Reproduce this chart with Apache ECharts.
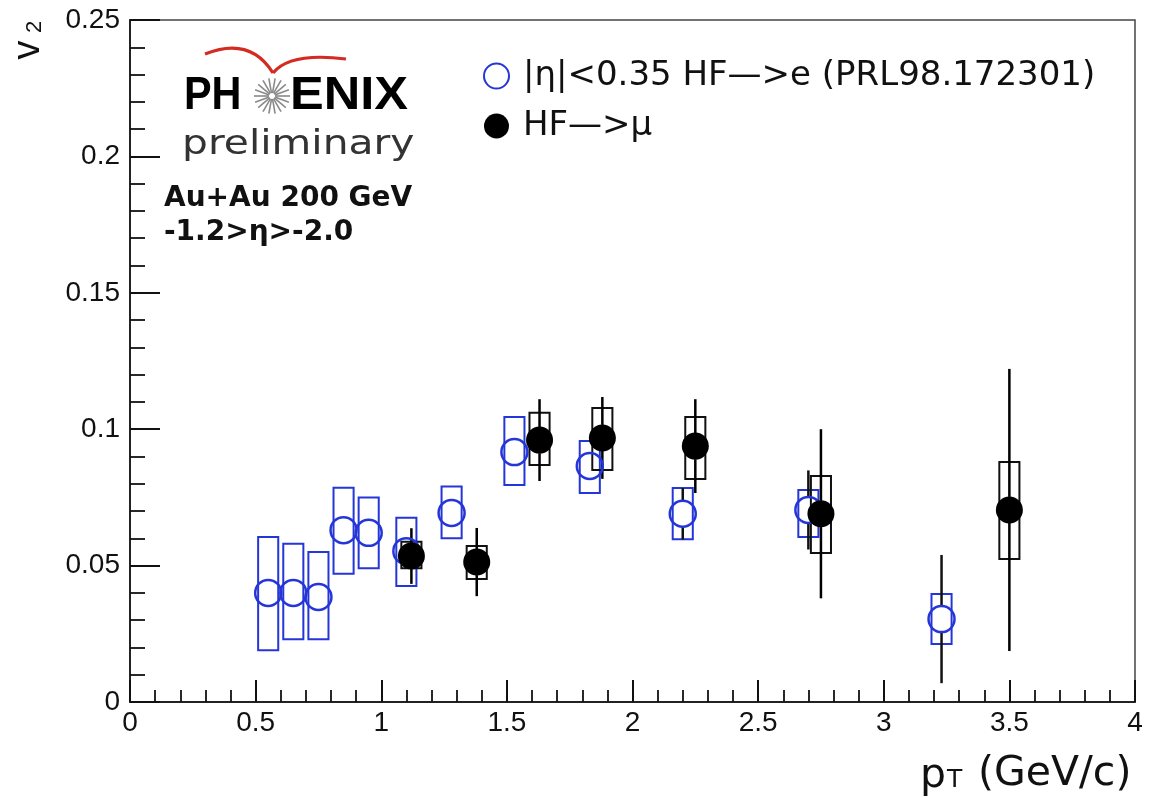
<!DOCTYPE html>
<html>
<head>
<meta charset="utf-8">
<style>
  html, body { margin: 0; padding: 0; background: #ffffff; }
  #chart { width: 1168px; height: 798px; }
</style>
<script src="https://cdn.jsdelivr.net/npm/echarts@6/dist/echarts.min.js"></script>
</head>
<body>
<div id="chart"></div>
<script>
// Heavy-flavour electron v2 at mid-rapidity (|eta|<0.35)
const elecPt     = [0.55, 0.65, 0.75, 0.85, 0.95, 1.10, 1.28, 1.53, 1.83, 2.20, 2.70, 3.23];
const elecV2     = [0.0400, 0.0400, 0.0385, 0.0630, 0.0620, 0.0553, 0.0693, 0.0916, 0.0865, 0.0690, 0.0704, 0.0304];
const elecStat   = [0.0048, 0.0048, 0.0048, 0.0048, 0.0048, 0.0048, 0.0048, 0.0048, 0.0048, 0.0094, 0.0145, 0.0235];
const elecSysLo  = [0.0190, 0.0230, 0.0230, 0.0470, 0.0490, 0.0425, 0.0600, 0.0795, 0.0766, 0.0597, 0.0605, 0.0213];
const elecSysHi  = [0.0605, 0.0580, 0.0550, 0.0785, 0.0750, 0.0675, 0.0790, 0.1045, 0.0957, 0.0784, 0.0777, 0.0396];

// Heavy-flavour muon v2 at forward rapidity (-1.2 > eta > -2.0)
const muonPt     = [1.12, 1.38, 1.63, 1.88, 2.25, 2.75, 3.50];
const muonV2     = [0.0535, 0.0513, 0.0960, 0.0968, 0.0938, 0.0690, 0.0704];
const muonStat   = [0.0102, 0.0125, 0.0150, 0.0150, 0.0172, 0.0310, 0.0517];
const muonSysLo  = [0.0490, 0.0451, 0.0869, 0.0850, 0.0817, 0.0546, 0.0524];
const muonSysHi  = [0.0587, 0.0572, 0.1060, 0.1078, 0.1045, 0.0828, 0.0880];

const xTicks = { min: 0, max: 4, step: 0.5 };
const yTicks = { min: 0, max: 0.25, step: 0.05 };

const ELEC_NAME = '|η|<0.35 HF—>e (PRL98.172301)';
const MUON_NAME = 'HF—>μ';

const BLUE = '#2536d8';
const BOX_HALF = 0.04;   // half width of systematic boxes, in GeV/c
const MARK_R = 13;       // marker radius in px (error bars stop at the marker edge)

function boxRenderer(color) {
  return function (params, api) {
    const x = api.value(0), lo = api.value(1), hi = api.value(2);
    const a = api.coord([x - BOX_HALF, hi]);
    const b = api.coord([x + BOX_HALF, lo]);
    return {
      type: 'rect',
      shape: { x: a[0], y: a[1], width: b[0] - a[0], height: b[1] - a[1] },
      style: { fill: 'none', stroke: color, lineWidth: 2 }
    };
  };
}

function errRenderer(color) {
  return function (params, api) {
    const x = api.value(0), v = api.value(1), e = api.value(2);
    const c = api.coord([x, v]);
    const t = api.coord([x, v + e]);
    const b = api.coord([x, v - e]);
    const children = [];
    if (t[1] < c[1] - MARK_R) {
      children.push({ type: 'line', shape: { x1: c[0], y1: t[1], x2: c[0], y2: c[1] - MARK_R },
        style: { stroke: color, lineWidth: 2.5 } });
    }
    if (b[1] > c[1] + MARK_R) {
      children.push({ type: 'line', shape: { x1: c[0], y1: c[1] + MARK_R, x2: c[0], y2: b[1] },
        style: { stroke: color, lineWidth: 2.5 } });
    }
    return { type: 'group', children: children };
  };
}

// PHENIX logo star: spokes around a centre
function starSpokes(cx, cy, rIn, rOut, n) {
  const out = [];
  for (let k = 0; k < n; k++) {
    const ang = (Math.PI * 2 * k) / n;
    out.push({
      type: 'line',
      shape: { x1: cx + rIn * Math.cos(ang), y1: cy + rIn * Math.sin(ang),
               x2: cx + rOut * Math.cos(ang), y2: cy + rOut * Math.sin(ang) },
      style: { stroke: '#8a8a8a', lineWidth: 1.6 }
    });
  }
  return out;
}

const chart = echarts.init(document.getElementById('chart'), null, { renderer: 'canvas' });

const axisFont = { fontFamily: 'Liberation Sans', fontSize: 28, color: '#111' };

const option = {
  backgroundColor: '#ffffff',
  animation: false,
  grid: {
    left: 130, right: 33, top: 20, bottom: 96,
    show: true, borderColor: '#444', borderWidth: 1.5, backgroundColor: 'transparent'
  },
  legend: {
    orient: 'vertical',
    left: 478, top: 54,
    itemWidth: 25, itemHeight: 25, itemGap: 16,
    icon: 'circle',
    selectedMode: false,
    textStyle: { fontFamily: 'DejaVu Sans', fontSize: 34, color: '#111', padding: [0, 0, 0, 9] },
    data: [ELEC_NAME, MUON_NAME]
  },
  xAxis: {
    type: 'value', min: xTicks.min, max: xTicks.max, interval: xTicks.step,
    axisLine: { lineStyle: { color: '#222', width: 2 } },
    axisTick: { inside: true, length: 22, lineStyle: { color: '#111', width: 2 } },
    minorTick: { show: true, splitNumber: 5, length: 12, lineStyle: { color: '#111', width: 1.8 } },
    splitLine: { show: false }, minorSplitLine: { show: false },
    axisLabel: Object.assign({ margin: 7 }, axisFont)
  },
  yAxis: {
    type: 'value', min: yTicks.min, max: yTicks.max, interval: yTicks.step,
    axisLine: { lineStyle: { color: '#222', width: 2 } },
    axisTick: { inside: true, length: 30, lineStyle: { color: '#111', width: 2 } },
    minorTick: { show: true, splitNumber: 5, length: 15, lineStyle: { color: '#111', width: 1.8 } },
    splitLine: { show: false }, minorSplitLine: { show: false },
    axisLabel: Object.assign({ margin: 10 }, axisFont)
  },
  series: [
    {
      type: 'custom', name: 'elecSys', z: 1, silent: true,
      renderItem: boxRenderer(BLUE),
      encode: { x: 0, y: [1, 2] },
      data: elecPt.map((x, i) => [x, elecSysLo[i], elecSysHi[i]])
    },
    {
      type: 'custom', name: 'muonSys', z: 1, silent: true,
      renderItem: boxRenderer('#111'),
      encode: { x: 0, y: [1, 2] },
      data: muonPt.map((x, i) => [x, muonSysLo[i], muonSysHi[i]])
    },
    {
      type: 'custom', name: 'elecStat', z: 2, silent: true,
      renderItem: errRenderer('#111'),
      encode: { x: 0, y: 1 },
      data: elecPt.map((x, i) => [x, elecV2[i], elecStat[i]])
    },
    {
      type: 'custom', name: 'muonStat', z: 2, silent: true,
      renderItem: errRenderer('#000'),
      encode: { x: 0, y: 1 },
      data: muonPt.map((x, i) => [x, muonV2[i], muonStat[i]])
    },
    {
      type: 'scatter', name: ELEC_NAME, z: 3,
      symbol: 'circle', symbolSize: 2 * MARK_R,
      itemStyle: { color: 'rgba(0,0,0,0)', borderColor: BLUE, borderWidth: 2.5, opacity: 1 },
      data: elecPt.map((x, i) => [x, elecV2[i]])
    },
    {
      type: 'scatter', name: MUON_NAME, z: 4,
      symbol: 'circle', symbolSize: 2 * MARK_R + 1,
      itemStyle: { color: '#000', opacity: 1 },
      data: muonPt.map((x, i) => [x, muonV2[i]])
    }
  ],
  graphic: [
    // y-axis title: v with subscript 2, rotated
    { type: 'text', x: 29, y: 50, rotation: Math.PI / 2,
      style: { text: 'v', fontFamily: 'Liberation Sans', fontSize: 38, fill: '#111', align: 'center', verticalAlign: 'middle' } },
    { type: 'text', x: 35, y: 27, rotation: Math.PI / 2,
      style: { text: '2', fontFamily: 'Liberation Sans', fontSize: 22, fill: '#111', align: 'center', verticalAlign: 'middle' } },
    // x-axis title: pT (GeV/c)
    { type: 'text', x: 920, y: 776,
      style: { text: 'p', fontFamily: 'DejaVu Sans', fontSize: 41, fill: '#111', align: 'left', verticalAlign: 'middle' } },
    { type: 'text', x: 947, y: 780,
      style: { text: 'T', fontFamily: 'DejaVu Sans', fontSize: 25, fill: '#111', align: 'left', verticalAlign: 'middle' } },
    { type: 'text', x: 978, y: 774,
      style: { text: '(GeV/c)', fontFamily: 'DejaVu Sans', fontSize: 41, fill: '#111', align: 'left', verticalAlign: 'middle' } },
    // PHENIX logo: red wings
    { type: 'bezierCurve', shape: { x1: 205, y1: 54, cpx1: 250, cpy1: 36, x2: 273, y2: 73 },
      style: { fill: 'none', stroke: '#d42a22', lineWidth: 3.2 } },
    { type: 'bezierCurve', shape: { x1: 273, y1: 73, cpx1: 290, cpy1: 52, x2: 346, y2: 59 },
      style: { fill: 'none', stroke: '#d42a22', lineWidth: 3.2 } },
    { type: 'group', children: starSpokes(272, 96, 3, 18, 18) },
    { type: 'text', x: 184, y: 96, scaleX: 0.9,
      style: { text: 'PH', fontFamily: 'Liberation Sans', fontWeight: 'bold', fontSize: 46, fill: '#000', align: 'left', verticalAlign: 'middle' } },
    { type: 'text', x: 290, y: 96, scaleX: 1.1,
      style: { text: 'ENIX', fontFamily: 'Liberation Sans', fontWeight: 'bold', fontSize: 46, fill: '#000', align: 'left', verticalAlign: 'middle' } },
    { type: 'text', x: 182, y: 145, scaleX: 1.2,
      style: { text: 'preliminary', fontFamily: 'DejaVu Sans', fontSize: 34, fill: '#333', align: 'left', verticalAlign: 'middle' } },
    // collision system and rapidity window
    { type: 'text', x: 164, y: 199,
      style: { text: 'Au+Au 200 GeV', fontFamily: 'DejaVu Sans', fontWeight: 'bold', fontSize: 28, fill: '#111', align: 'left', verticalAlign: 'middle' } },
    { type: 'text', x: 164, y: 233,
      style: { text: '-1.2>η>-2.0', fontFamily: 'DejaVu Sans', fontWeight: 'bold', fontSize: 28, fill: '#111', align: 'left', verticalAlign: 'middle' } }
  ]
};

chart.setOption(option);
</script>
</body>
</html>
